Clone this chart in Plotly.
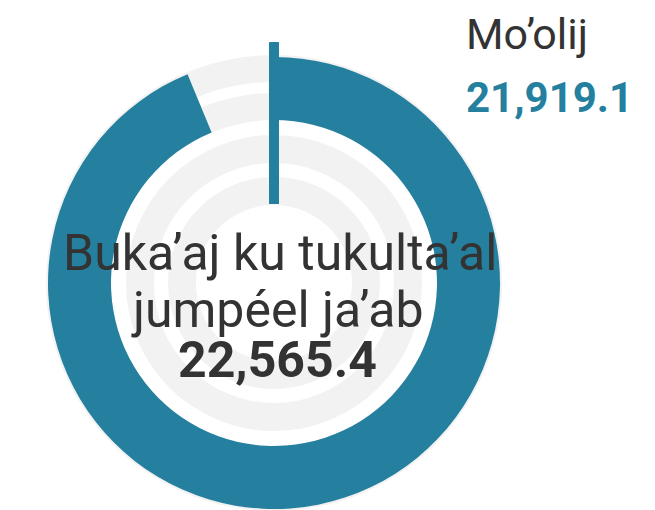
import plotly.graph_objects as go

# ---- data ----
actual_label = "Mo’olij"
actual_value = 21919.1
target_lines = ["Buka’aj ku tukulta’al", "jumpéel ja’ab"]
target_value = 22565.4
axis_max = 23380.0          # scale maximum estimated from arc length
marker_value = 0.0          # start marker at top

TEAL = "#25809f"
DARK = "#333333"
TRACK = "#f2f2f2"

W, H = 655, 520
OFF = 8  # page body margin offset of the figure inside the window

# ring geometry (radial units = pixels)
track_base = [201, 163, 120, 78]
track_thick = [27, 27, 28, 28]
bar_base, bar_thick = 163, 63
R_MAX = 241

end_deg = actual_value / axis_max * 360.0
marker_deg = marker_value / axis_max * 360.0

fig = go.Figure()
fig.add_trace(go.Barpolar(
    r=track_thick, base=track_base, theta=[180] * 4, width=[360] * 4,
    marker=dict(color=TRACK, line=dict(width=0)), hoverinfo="skip", showlegend=False))
fig.add_trace(go.Barpolar(
    r=[bar_thick], base=[bar_base], theta=[end_deg / 2], width=[end_deg],
    marker=dict(color=TEAL, line=dict(width=0)), showlegend=False,
    hovertemplate=f"{actual_label}: {actual_value:,.1f}<extra></extra>"))
fig.add_trace(go.Scatterpolar(
    r=[79, R_MAX], theta=[marker_deg, marker_deg], mode="lines",
    line=dict(color=TEAL, width=10), hoverinfo="skip", showlegend=False))

# screen centre (274, 283) -> figure coords
cx, cy = 274 - OFF, 283 - OFF
cy_b = H - cy
fig.update_layout(
    width=W, height=H, margin=dict(l=0, r=0, t=0, b=0),
    paper_bgcolor="white", plot_bgcolor="white", showlegend=False,
    polar=dict(
        domain=dict(x=[(cx - R_MAX) / W, (cx + R_MAX) / W],
                    y=[(cy_b - R_MAX) / H, (cy_b + R_MAX) / H]),
        bgcolor="white",
        radialaxis=dict(range=[0, R_MAX], visible=False, showgrid=False),
        angularaxis=dict(visible=False, rotation=90, direction="clockwise", showgrid=False),
        barmode="overlay",
    ),
)

def py(px):
    return 1 - (px - OFF) / H

def pxx(px):
    return (px - OFF) / W

font = "Roboto"
anns = [
    dict(text=target_lines[0], x=pxx(280), y=py(253), font=dict(size=50, color=DARK, family=font), xanchor="center"),
    dict(text=target_lines[1], x=pxx(277), y=py(310), font=dict(size=50, color=DARK, family=font), xanchor="center"),
    dict(text=f"<b>{target_value:,.1f}</b>", x=pxx(277), y=py(360), font=dict(size=50, color=DARK, family=font), xanchor="center"),
    dict(text=actual_label, x=pxx(464), y=py(34), font=dict(size=43, color=DARK, family=font), xanchor="left"),
    dict(text=f"<b>{actual_value:,.1f}</b>", x=pxx(464), y=py(97), font=dict(size=42, color=TEAL, family=font), xanchor="left"),
]
for a in anns:
    fig.add_annotation(xref="paper", yref="paper", showarrow=False, yanchor="middle", **a)

fig.write_html("out.html")
